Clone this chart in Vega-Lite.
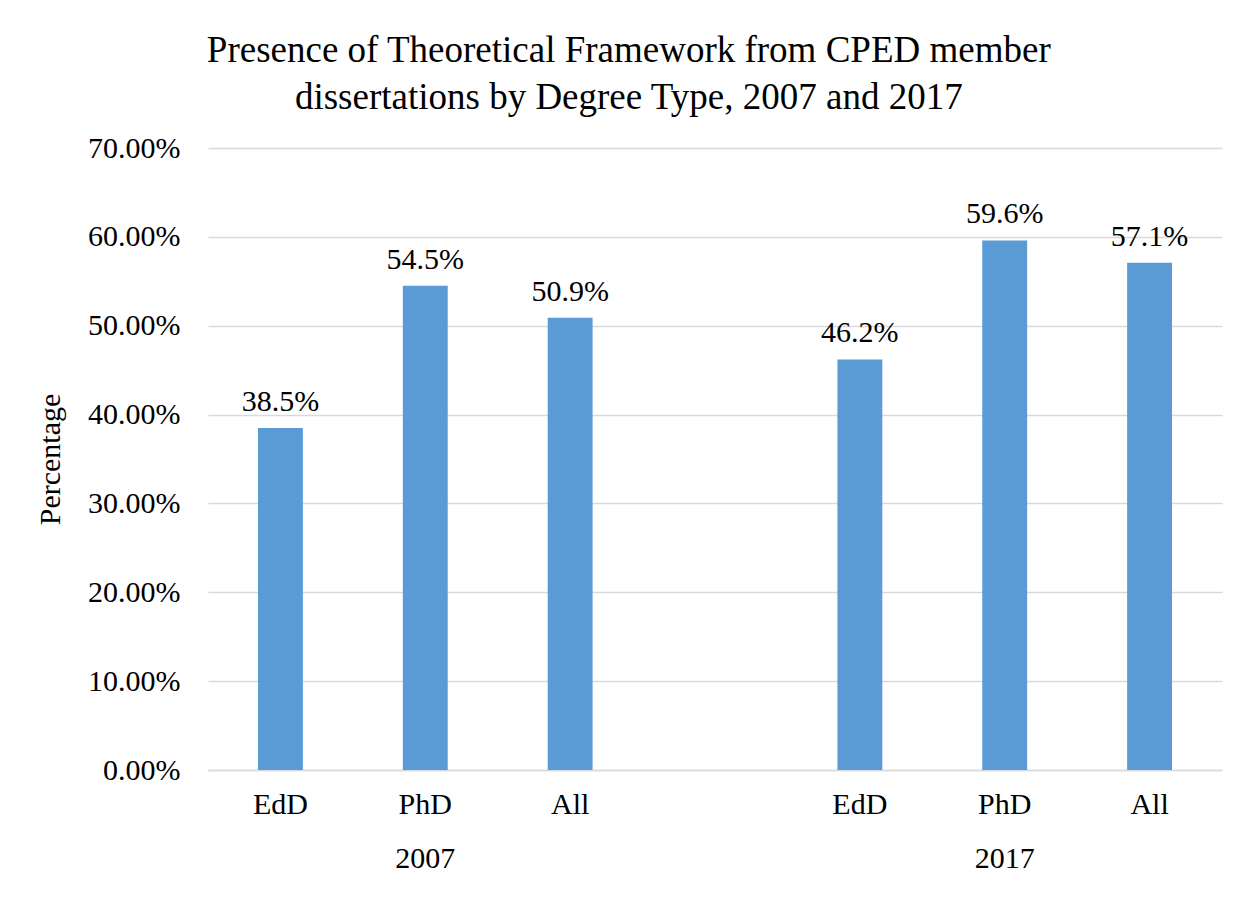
{
  "$schema": "https://vega.github.io/schema/vega-lite/v6.json",
  "width": 1014,
  "height": 622,
  "autosize": {"type": "none"},
  "padding": {"left": 208, "top": 148, "right": 26, "bottom": 127},
  "background": "white",
  "config": {"view": {"stroke": null}},
  "title": {
    "text": ["Presence of Theoretical Framework from CPED member", "dissertations  by Degree Type, 2007 and 2017"],
    "font": "Liberation Serif",
    "fontSize": 37,
    "fontWeight": "normal",
    "color": "#000000",
    "lineHeight": 47,
    "anchor": "middle",
    "frame": "bounds",
    "offset": 16
  },
  "data": {
    "values": [
      {"year": "2007", "degree": "EdD", "pct": 0.385},
      {"year": "2007", "degree": "PhD", "pct": 0.545},
      {"year": "2007", "degree": "All", "pct": 0.509},
      {"year": "2017", "degree": "EdD", "pct": 0.462},
      {"year": "2017", "degree": "PhD", "pct": 0.596},
      {"year": "2017", "degree": "All", "pct": 0.571}
    ]
  },
  "transform": [{"calculate": "datum.year + '|' + datum.degree", "as": "key"}],
  "encoding": {
    "x": {
      "field": "key",
      "type": "nominal",
      "sort": null,
      "scale": {
        "domain": ["2007|EdD", "2007|PhD", "2007|All", "gap", "2017|EdD", "2017|PhD", "2017|All"],
        "paddingInner": 0.69,
        "paddingOuter": 0.345
      },
      "axis": {
        "title": null,
        "labelAngle": 0,
        "labelExpr": "datum.value == 'gap' ? '' : (split(datum.value, '|')[1] == 'PhD' ? ['PhD', split(datum.value, '|')[0]] : split(datum.value, '|')[1])",
        "labelFont": "Liberation Serif",
        "labelFontSize": 30,
        "labelColor": "#000000",
        "labelBaseline": "top",
        "labelLineHeight": 54,
        "labelPadding": 19,
        "ticks": false,
        "domain": true,
        "domainColor": "#D9D9D9",
        "domainWidth": 1.5,
        "grid": false
      }
    },
    "y": {
      "field": "pct",
      "type": "quantitative",
      "scale": {"domain": [0, 0.7], "nice": false},
      "axis": {
        "title": "Percentage",
        "titleFont": "Liberation Serif",
        "titleFontSize": 30,
        "titleFontWeight": "normal",
        "titleColor": "#000000",
        "titlePadding": 22,
        "values": [0, 0.1, 0.2, 0.3, 0.4, 0.5, 0.6, 0.7],
        "format": ".2%",
        "labelFont": "Liberation Serif",
        "labelFontSize": 30,
        "labelColor": "#000000",
        "labelPadding": 28,
        "ticks": false,
        "domain": false,
        "grid": true,
        "gridColor": "#D9D9D9",
        "gridWidth": 1.5
      }
    }
  },
  "layer": [
    {"mark": {"type": "bar", "color": "#5B9BD5"}},
    {
      "mark": {"type": "text", "font": "Liberation Serif", "fontSize": 30, "color": "#000000", "baseline": "alphabetic", "dy": -17},
      "encoding": {"text": {"field": "pct", "type": "quantitative", "format": ".1%"}}
    }
  ]
}
